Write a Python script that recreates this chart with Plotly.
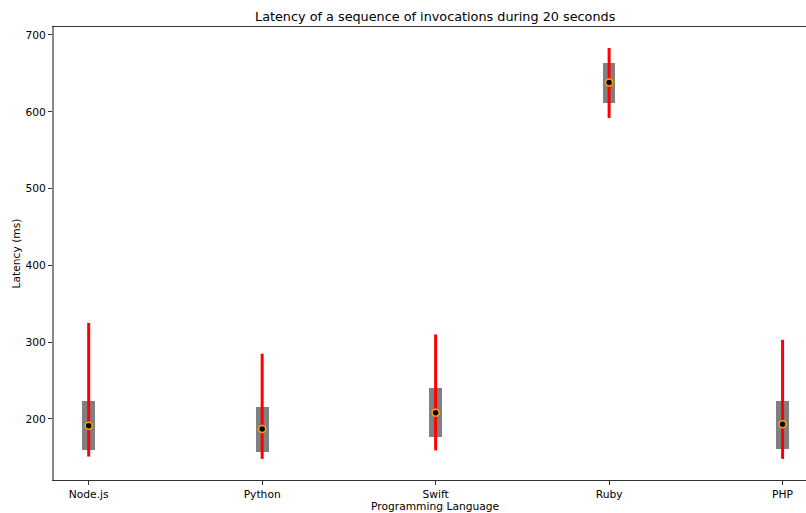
import plotly.graph_objects as go

languages = ["Node.js", "Python", "Swift", "Ruby", "PHP"]
lat_min = [151, 148, 159, 592, 148]
lat_max = [325, 285, 310, 683, 303]
lat_q1 = [160, 157, 176, 612, 161]
lat_q3 = [223, 215, 240, 664, 224]
lat_mid = [191, 187, 208, 638, 193]
y_ticks = [200, 300, 400, 500, 600, 700]

pos = list(range(len(languages)))
FONT = "DejaVu Sans"
FS = 10.7

fig = go.Figure()

fig.add_trace(go.Bar(
    x=pos,
    y=[q3 - q1 for q1, q3 in zip(lat_q1, lat_q3)],
    base=lat_q1,
    width=0.073,
    marker=dict(color="#808080", line=dict(width=0)),
    hoverinfo="skip",
    showlegend=False,
))

for i in pos:
    fig.add_trace(go.Scatter(
        x=[i, i], y=[lat_min[i], lat_max[i]],
        mode="lines",
        line=dict(color="#ff0000", width=3),
        showlegend=False,
    ))

fig.add_trace(go.Scatter(
    x=pos, y=lat_mid,
    mode="markers",
    marker=dict(color="black", size=7, line=dict(color="#ffa500", width=1.5)),
    showlegend=False,
))

fig.update_layout(
    width=806, height=513,
    margin=dict(l=54, r=0, t=27, b=33),
    paper_bgcolor="white", plot_bgcolor="white",
    font=dict(family=FONT, size=FS, color="black"),
    bargap=0,
    xaxis=dict(
        range=[-0.2, 4.135],
        tickvals=pos, ticktext=languages,
        showgrid=False, zeroline=False,
        showline=True, linecolor="#333333", linewidth=1, mirror=True,
        ticks="outside", ticklen=4, tickcolor="#333333",
        tickfont=dict(family=FONT, size=FS),
    ),
    yaxis=dict(
        range=[120.5, 710.4],
        tickvals=y_ticks,
        showgrid=False, zeroline=False,
        showline=True, linecolor="#888888", linewidth=2,
        ticks="outside", ticklen=4, tickcolor="#333333",
        tickfont=dict(family=FONT, size=FS),
    ),
    annotations=[
        dict(text="Latency of a sequence of invocations during 20 seconds",
             xref="paper", yref="paper", x=0.507, y=1 + 10 / 453,
             xanchor="center", yanchor="middle", showarrow=False,
             font=dict(family=FONT, size=12.8)),
        dict(text="Latency (ms)", xref="paper", yref="paper",
             x=-38 / 752, y=0.5, textangle=-90,
             xanchor="center", yanchor="middle", showarrow=False,
             font=dict(family=FONT, size=FS)),
        dict(text="Programming Language", xref="paper", yref="paper",
             x=0.507, y=-26 / 453,
             xanchor="center", yanchor="middle", showarrow=False,
             font=dict(family=FONT, size=FS)),
    ],
)

fig.write_html(
    "out.html",
    config={"displayModeBar": False},
    post_script="document.body.style.margin='0';document.body.style.overflow='hidden';",
)
